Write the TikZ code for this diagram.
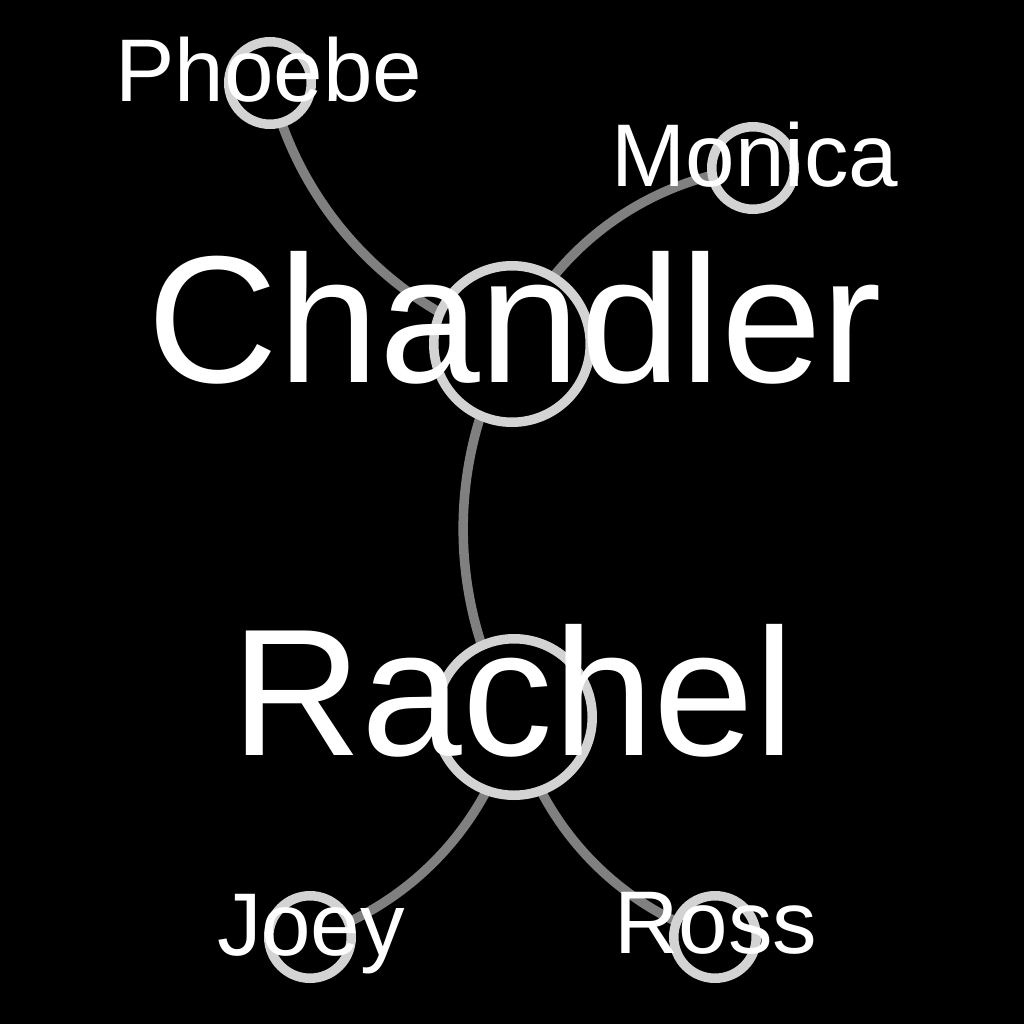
\documentclass[tikz,border=0pt]{standalone}
\usepackage{fontspec}
\setmainfont{Liberation Sans}
\pgfdeclarelayer{bg}
\pgfdeclarelayer{background}
\pgfsetlayers{bg,background,main}
\definecolor{ringc}{HTML}{D3D3D3}
\definecolor{linkc}{HTML}{808080}
\begin{document}
\begin{tikzpicture}[x=1pt,y=-1pt,
  ring/.style={circle,draw=ringc,fill=black,line width=9.5pt,inner sep=0pt},
  smallring/.style={ring,minimum size=82.5pt},
  bigring/.style={ring,minimum size=156.5pt},
  link/.style={draw=linkc,line width=9.5pt,bend right=30,looseness=0.91},
  lbl/.style={text=white,anchor=base,inner sep=0pt},
  biglbl/.style={lbl,font=\fontsize{181}{181}\selectfont},
  smalllbl/.style={lbl,font=\fontsize{89}{89}\selectfont}]
\begin{pgfonlayer}{bg}
\fill[black] (0,0) rectangle (1024,1024);
\end{pgfonlayer}
\useasboundingbox (0,0) rectangle (1024,1024);
% circles
\node[smallring] (phoebe)   at (270,83)  {};
\node[smallring] (monica)   at (753,168) {};
\node[bigring]   (chandler) at (512,344) {};
\node[bigring]   (rachel)   at (514,717) {};
\node[smallring] (joey)     at (310,937) {};
\node[smallring] (ross)     at (715,937) {};
% links
\begin{pgfonlayer}{background}
\draw[link] (phoebe.center) to (chandler.center);
\draw[link] (monica.center) to (chandler.center);
\draw[link] (chandler.center) to (rachel.center);
\draw[link] (joey.center) to (rachel.center);
\draw[link] (rachel.center) to (ross.center);
\end{pgfonlayer}
% labels
\node[smalllbl] (phoebeL)   at (269,102) {Phoebe};
\node[smalllbl] (monicaL)   at (755,187) {Monica};
\node[biglbl]   (chandlerL) at (515,382) {Chandler};
\node[biglbl]   (rachelL)   at (513,755) {Rachel};
\node[smalllbl] (joeyL)     at (311,955) {Joey};
\node[smalllbl] (rossL)     at (716,953) {Ross};
\end{tikzpicture}
\end{document}
